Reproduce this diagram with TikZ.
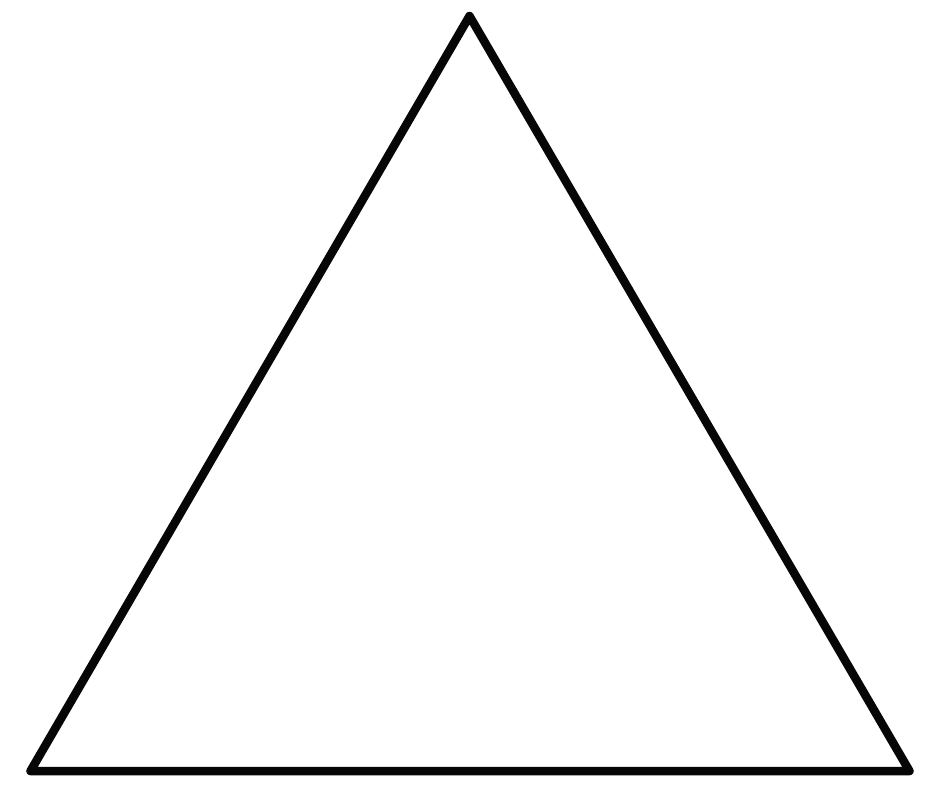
\documentclass[tikz,border=0pt]{standalone}
\begin{document}
\begin{tikzpicture}[x=1pt,y=-1pt,
  edge/.style={draw=black!95!gray, line width=8.5pt, line join=round, line cap=round}]
\useasboundingbox (0,0) rectangle (940,788);
\coordinate (top) at (469.5,16);
\coordinate (bl) at (30.5,771);
\coordinate (br) at (909.5,771);
\draw[edge] (top) -- (br) -- (bl) -- cycle;
\end{tikzpicture}
\end{document}
